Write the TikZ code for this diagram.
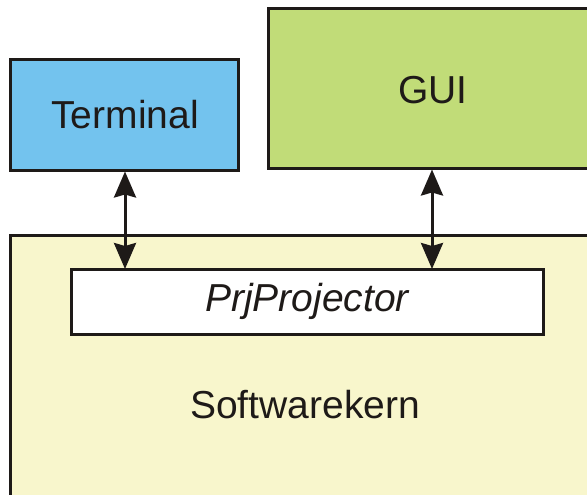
\documentclass[tikz,border=0pt]{standalone}
\usepackage{fontspec}
\setmainfont{Liberation Sans}
\usetikzlibrary{arrows.meta}
\definecolor{termblue}{HTML}{73C3EE}
\definecolor{guigreen}{HTML}{C1DC78}
\definecolor{kernyellow}{HTML}{F8F6CC}
\definecolor{edgeblack}{HTML}{1E1A18}
\tikzset{
  block/.style={draw=edgeblack, line width=3pt, inner sep=0pt, outer sep=0pt},
  label/.style={font=\fontsize{39}{45}\selectfont, text=edgeblack},
  link/.style={draw=edgeblack, line width=3pt,
    {Stealth[width=22pt,length=26pt,inset=3pt]}-{Stealth[width=22pt,length=26pt,inset=3pt]}}
}
\begin{document}
\begin{tikzpicture}[x=1pt,y=-1pt]
  \useasboundingbox (0,0) rectangle (587,495);
  \clip (0,0) rectangle (587,495);
  % software core with the projector layer
  \draw[block, fill=kernyellow] (10,235) rectangle (620,530);
  \node[label] (kern) at (305,405) {Softwarekern};
  \draw[block, fill=white] (71,269) rectangle (543,334);
  \node[label, font=\fontsize{39}{45}\selectfont\itshape] (prj) at (307,301) {PrjProjector};
  % front ends
  \draw[block, fill=termblue] (10,60) rectangle (238,170);
  \node[label] (term) at (125,115) {Terminal};
  \draw[block, fill=guigreen] (268,9) rectangle (620,168);
  \node[label] (gui) at (433,90) {GUI};
  % connection points on the box edges
  \coordinate (termB) at (125,171.5);
  \coordinate (guiB) at (432,169.5);
  \coordinate (prjT1) at (125,269);
  \coordinate (prjT2) at (432,269);
  \draw[link] (termB) -- (prjT1);
  \draw[link] (guiB) -- (prjT2);
\end{tikzpicture}
\end{document}
